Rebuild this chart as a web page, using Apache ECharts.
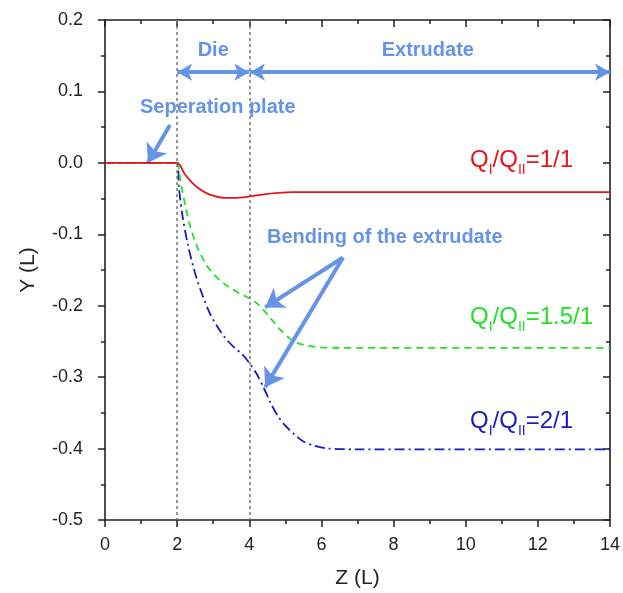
<!DOCTYPE html>
<html lang="en">
<head>
<meta charset="UTF-8">
<title>Extrudate bending</title>
<script src="https://cdn.jsdelivr.net/npm/echarts@6/dist/echarts.min.js"></script>
<style>
html, body { margin: 0; padding: 0; background: #fff; }
#main { width: 623px; height: 593px; }
</style>
</head>
<body>
<div id="main"></div>
<script>
// curve values, [Z, Y]
var ratio11 = [[0, 0], [1, 0], [2, 0], [2.2, -0.015], [2.4, -0.027], [2.6, -0.036], [2.8, -0.042], [3.0, -0.046],
  [3.3, -0.049], [3.6, -0.049], [4.0, -0.047], [4.4, -0.044], [4.8, -0.042], [5.2, -0.041], [6, -0.041], [8, -0.041], [14, -0.041]];
var ratio151 = [[0, 0], [1, 0], [2, 0], [2.06, -0.015], [2.12, -0.033], [2.25, -0.065], [2.36, -0.089], [2.5, -0.11],
  [2.63, -0.126], [2.8, -0.142], [2.91, -0.15], [3.2, -0.165], [3.47, -0.175], [3.75, -0.183], [4.02, -0.19],
  [4.2, -0.196], [4.38, -0.205], [4.6, -0.218], [4.85, -0.233], [5.1, -0.245], [5.32, -0.252], [5.6, -0.256],
  [5.9, -0.258], [6.5, -0.259], [14, -0.259]];
var ratio21 = [[0, 0], [1, 0], [2, 0], [2.05, -0.035], [2.15, -0.075], [2.3, -0.115], [2.5, -0.155], [2.7, -0.185],
  [2.9, -0.21], [3.1, -0.228], [3.3, -0.243], [3.55, -0.257], [3.8, -0.268], [4.0, -0.28], [4.2, -0.295],
  [4.4, -0.315], [4.6, -0.337], [4.8, -0.355], [5.0, -0.368], [5.25, -0.38], [5.5, -0.39], [5.8, -0.396],
  [6.2, -0.4], [7, -0.401], [14, -0.401]];

var zoneLines = [2, 4];
var annoBlue = '#6594e6';
var textFont = 'Arial, "Liberation Sans", sans-serif';

var myChart = echarts.init(document.getElementById('main'));

function axisBase(extra) {
  var a = {
    axisLine: { show: true, onZero: false, lineStyle: { color: '#222', width: 1.6 } },
    splitLine: { show: false },
    minorSplitLine: { show: false }
  };
  for (var k in extra) a[k] = extra[k];
  return a;
}

function qLabel(val) {
  return '{m|Q}{s|I}{m|/Q}{s|II}{m|=' + val + '}';
}
function qRich(color) {
  return {
    m: { fontSize: 24, fill: color, color: color, fontFamily: textFont, verticalAlign: 'bottom', padding: [0, 0, 5, 0] },
    s: { fontSize: 14, fill: color, color: color, fontFamily: textFont, verticalAlign: 'bottom' }
  };
}

var option = {
  animation: false,
  backgroundColor: '#fff',
  grid: { left: 105, right: 13, top: 20, bottom: 73, outerBoundsMode: 'none' },
  xAxis: [
    axisBase({
      type: 'value', min: 0, max: 14, interval: 2, position: 'bottom',
      name: 'Z (L)', nameLocation: 'middle', nameGap: 48,
      nameTextStyle: { fontSize: 21, color: '#222', fontFamily: textFont },
      axisTick: { show: true, inside: false, length: 7, lineStyle: { color: '#222', width: 1.5 } },
      minorTick: { show: true, splitNumber: 2, length: 4, lineStyle: { color: '#222', width: 1.5 } },
      axisLabel: { fontSize: 18, color: '#222', margin: 16, fontFamily: textFont }
    }),
    axisBase({
      type: 'value', min: 0, max: 14, interval: 2, position: 'top',
      axisTick: { show: true, inside: true, length: 7, lineStyle: { color: '#222', width: 1.5 } },
      minorTick: { show: true, splitNumber: 2, length: 4, lineStyle: { color: '#222', width: 1.5 } },
      axisLabel: { show: false }
    })
  ],
  yAxis: [
    axisBase({
      type: 'value', min: -0.5, max: 0.2, interval: 0.1, position: 'left',
      name: 'Y (L)', nameLocation: 'middle', nameGap: 66, nameRotate: 90,
      nameTextStyle: { fontSize: 21, color: '#222', fontFamily: textFont },
      axisTick: { show: true, inside: false, length: 7, lineStyle: { color: '#222', width: 1.5 } },
      minorTick: { show: true, splitNumber: 2, length: 4, lineStyle: { color: '#222', width: 1.5 } },
      axisLabel: { fontSize: 18, color: '#222', margin: 22, fontFamily: textFont,
        formatter: function (v) { return v.toFixed(1); } }
    }),
    axisBase({
      type: 'value', min: -0.5, max: 0.2, interval: 0.1, position: 'right',
      axisTick: { show: true, inside: true, length: 7, lineStyle: { color: '#222', width: 1.5 } },
      minorTick: { show: true, splitNumber: 2, length: 4, lineStyle: { color: '#222', width: 1.5 } },
      axisLabel: { show: false }
    })
  ],
  series: [
    {
      // zone dividers and annotation arrows
      type: 'line', data: [], silent: true,
      markLine: {
        silent: true, symbol: 'none', animation: false,
        label: { show: false },
        data: zoneLines.map(function (z) {
          return [{ coord: [z, 0.2], lineStyle: { color: '#777', type: [3, 3], width: 1.5 } }, { coord: [z, -0.5] }];
        }).concat([
          [{ coord: [2, 0.127], symbol: 'arrow', symbolSize: [13, 15], lineStyle: { color: annoBlue, width: 4, type: 'solid' } },
           { coord: [4, 0.127], symbol: 'arrow', symbolSize: [13, 15] }],
          [{ coord: [4.02, 0.127], symbol: 'arrow', symbolSize: [13, 15], lineStyle: { color: annoBlue, width: 4, type: 'solid' } },
           { coord: [14, 0.127], symbol: 'arrow', symbolSize: [13, 15] }],
          [{ coord: [1.8, 0.053], symbol: 'none', lineStyle: { color: annoBlue, width: 4, type: 'solid' } },
           { coord: [1.19, 0.0], symbol: 'arrow', symbolSize: [18, 18] }],
          [{ coord: [6.6, -0.1325], symbol: 'none', lineStyle: { color: annoBlue, width: 4, type: 'solid' } },
           { coord: [4.44, -0.2024], symbol: 'arrow', symbolSize: [18, 18] }],
          [{ coord: [6.6, -0.1325], symbol: 'none', lineStyle: { color: annoBlue, width: 4, type: 'solid' } },
           { coord: [4.44, -0.314], symbol: 'arrow', symbolSize: [18, 18] }]
        ])
      }
    },
    {
      name: '2/1', type: 'line', data: ratio21, showSymbol: false, smooth: 0.3, z: 3,
      lineStyle: { color: '#1a1ac8', width: 1.8, type: [10, 4, 2, 4] }
    },
    {
      name: '1.5/1', type: 'line', data: ratio151, showSymbol: false, smooth: 0.3, z: 4,
      lineStyle: { color: '#22e022', width: 1.8, type: [7, 5] }
    },
    {
      name: '1/1', type: 'line', data: ratio11, showSymbol: false, smooth: 0.3, z: 5,
      lineStyle: { color: '#e8141c', width: 1.8 }
    }
  ]
};
myChart.setOption(option);

// annotation texts, anchored at data coordinates
var texts = [
  { at: [3.0, 0.157], text: 'Die', align: 'center' },
  { at: [8.95, 0.157], text: 'Extrudate', align: 'center' },
  { at: [0.97, 0.078], text: 'Seperation plate', align: 'left' },
  { at: [4.49, -0.105], text: 'Bending of the extrudate', align: 'left' },
  { at: [10.12, 0.0], rich: qLabel('1/1'), color: '#e8141c' },
  { at: [10.12, -0.22], rich: qLabel('1.5/1'), color: '#22e022' },
  { at: [10.12, -0.365], rich: qLabel('2/1'), color: '#1a1ac8' }
];
var elems = texts.map(function (t) {
  var p = myChart.convertToPixel({ xAxisIndex: 0, yAxisIndex: 0 }, t.at);
  if (t.rich) {
    return { type: 'text', x: p[0], y: p[1], z: 100,
      style: { text: t.rich, rich: qRich(t.color), fill: t.color, align: 'left', verticalAlign: 'middle' } };
  }
  return { type: 'text', x: p[0], y: p[1], z: 100,
    style: { text: t.text, fill: annoBlue, fontSize: 20, fontWeight: 'bold', fontFamily: textFont,
      align: t.align, verticalAlign: 'middle' } };
});
myChart.setOption({ graphic: elems });
</script>
</body>
</html>
